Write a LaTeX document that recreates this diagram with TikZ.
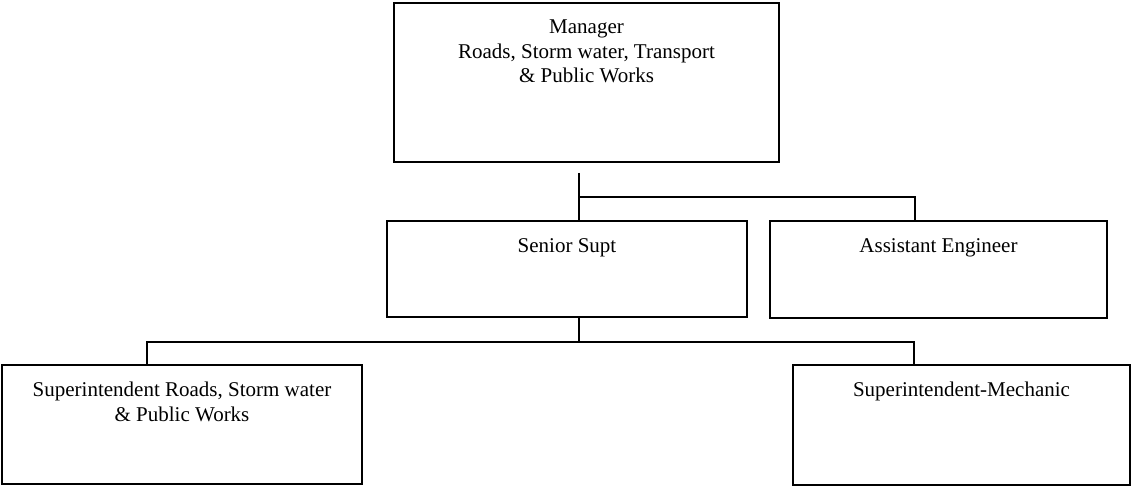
\documentclass[tikz,border=0pt]{standalone}
\usepackage{fontspec}
\setmainfont{Liberation Serif}
\begin{document}
\begin{tikzpicture}[x=1pt,y=-1pt,
  box/.style={draw,line width=1.7pt,minimum width=#1,inner sep=0pt},
  lbl/.style={anchor=north,inner sep=0pt,yshift=-17.8pt,align=center,
    font=\fontsize{21}{24.3}\selectfont},
  link/.style={line width=1.7pt}]
\useasboundingbox (0,0) rectangle (1131,486);
% boxes
\node[box=385pt,minimum height=159pt,
  label={[lbl]north:Manager\\Roads, Storm water, Transport\\\& Public Works}] (mgr) at (586.5,82.5) {};
\node[box=360pt,minimum height=96pt,label={[lbl]north:Senior Supt}] (senior) at (567,269) {};
\node[box=337pt,minimum height=97pt,label={[lbl]north:Assistant Engineer}] (asst) at (938.5,269.5) {};
\node[box=360pt,minimum height=119pt,
  label={[lbl]north:Superintendent Roads, Storm water\\\& Public Works}] (supr) at (182,424.5) {};
\node[box=337pt,minimum height=120pt,label={[lbl]north:Superintendent-Mechanic}] (mech) at (961.5,425) {};
% connectors
\coordinate (top) at (579,173);
\coordinate (tjoin) at (579,197);
\coordinate (tright) at (915,197);
\coordinate (bjoin) at (579,342);
\coordinate (bleft) at (147,342);
\coordinate (bright) at (914,342);
\draw[link] (top) -- (top |- senior.north);
\draw[link] (tjoin) -- (tright) -- (tright |- asst.north);
\draw[link] (bjoin |- senior.south) -- (bjoin);
\draw[link] (bleft |- supr.north) -- (bleft) -- (bright) -- (bright |- mech.north);
\end{tikzpicture}
\end{document}
